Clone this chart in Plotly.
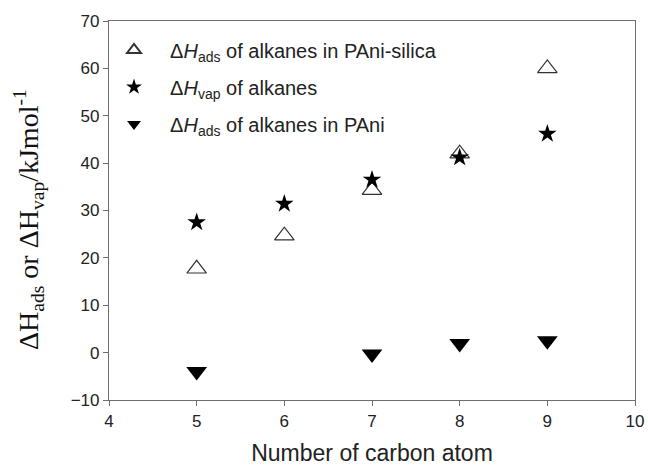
import plotly.graph_objects as go

carbons = [5, 6, 7, 8, 9]
dh_ads_pani_silica = [17.7, 24.7, 34.3, 42.0, 60.0]
dh_vap = [27.5, 31.4, 36.5, 41.2, 46.2]
dh_ads_pani = [-4.0, None, -0.3, 1.9, 2.5]

pad = "&nbsp;&nbsp;"
fig = go.Figure()
fig.add_trace(go.Scatter(
    x=carbons, y=dh_ads_pani_silica, mode="markers", legendgroup="a",
    name=pad + "Δ<i>H</i><sub>ads</sub> of alkanes in PAni-silica",
    marker=dict(symbol="triangle-up-open", size=17, color="#333333", line=dict(width=1.2, color="#333333")),
))
fig.add_trace(go.Scatter(
    x=carbons, y=dh_vap, mode="markers", legendgroup="b",
    name=pad + "Δ<i>H</i><sub>vap</sub> of alkanes",
    marker=dict(symbol="star", size=14, color="#000000", line=dict(width=0)),
))
fig.add_trace(go.Scatter(
    x=carbons, y=dh_ads_pani, mode="markers", legendgroup="c",
    name=pad + "Δ<i>H</i><sub>ads</sub> of alkanes in PAni",
    marker=dict(symbol="triangle-down", size=18, color="#000000", line=dict(width=0)),
))

axis_common = dict(
    showline=True, linecolor="#6e6e6e", linewidth=1.2, mirror=True,
    ticks="outside", ticklen=5, tickcolor="#6e6e6e", tickwidth=1,
    showgrid=False, zeroline=False, automargin=False,
    tickfont=dict(family="Liberation Sans, Arial", size=17, color="#222222"),
)

fig.update_layout(
    width=648, height=470,
    paper_bgcolor="white", plot_bgcolor="white",
    margin=dict(l=109, r=13, t=21, b=70, autoexpand=False),
    showlegend=True,
    legend=dict(
        x=0.0, y=0.975, xanchor="left", yanchor="top",
        bgcolor="rgba(0,0,0,0)", borderwidth=0,
        font=dict(family="Liberation Sans, Arial", size=20, color="#222222"),
        itemsizing="constant", tracegroupgap=8, itemwidth=40,
    ),
    xaxis=dict(
        range=[4, 10], dtick=1, tick0=4,
        title=dict(text="Number of carbon atom", font=dict(family="Liberation Sans, Arial", size=23, color="#222222"), standoff=15),
        **axis_common,
    ),
    yaxis=dict(
        range=[-10, 70], dtick=10, tick0=-10,
        **axis_common,
    ),
    annotations=[dict(
        text="ΔH<sub>ads</sub> or ΔH<sub>vap</sub>/kJmol<sup>-1</sup>",
        xref="paper", yref="paper", x=-0.152, y=0.475,
        xanchor="center", yanchor="middle", textangle=-90, showarrow=False,
        font=dict(family="Liberation Serif, Times New Roman", size=28, color="#111111"),
    )],
)

fig.write_html("out.html", config={"displayModeBar": False},
               post_script="document.body.style.margin='0';document.body.style.overflow='hidden';")
